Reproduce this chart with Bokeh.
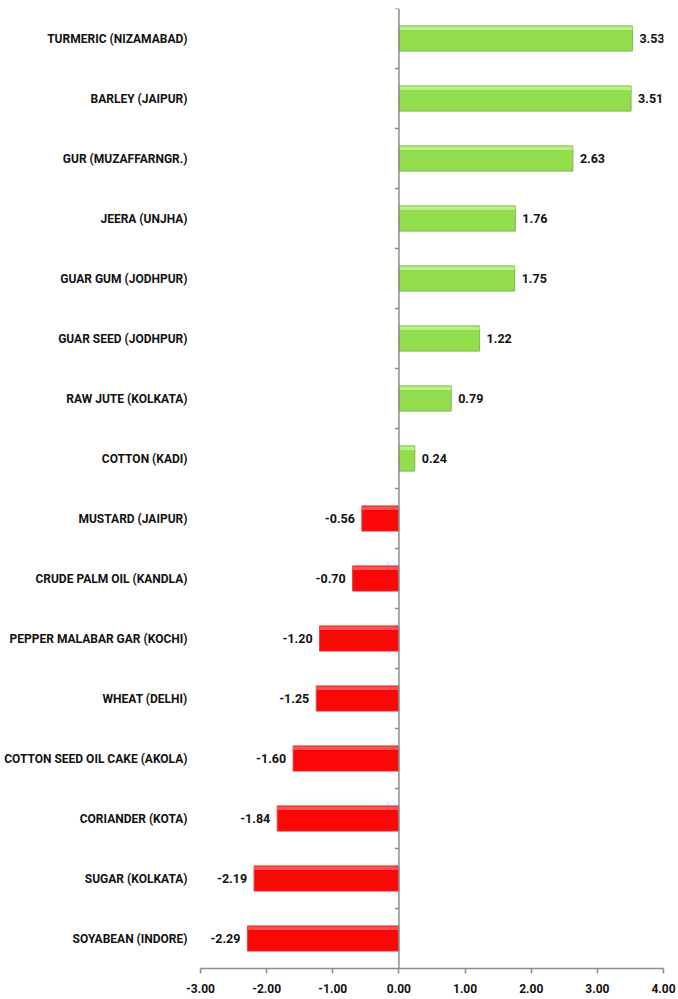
from bokeh.plotting import figure
from bokeh.models import ColumnDataSource, LabelSet, Span, FixedTicker, NumeralTickFormatter, Range1d
from bokeh.core.properties import value
from bokeh.embed import file_html
from bokeh.resources import INLINE

categories = [
    "TURMERIC (NIZAMABAD)", "BARLEY (JAIPUR)", "GUR (MUZAFFARNGR.)", "JEERA (UNJHA)",
    "GUAR GUM (JODHPUR)", "GUAR SEED (JODHPUR)", "RAW JUTE (KOLKATA)", "COTTON (KADI)",
    "MUSTARD (JAIPUR)", "CRUDE PALM OIL (KANDLA)", "PEPPER MALABAR GAR (KOCHI)", "WHEAT (DELHI)",
    "COTTON SEED OIL CAKE (AKOLA)", "CORIANDER (KOTA)", "SUGAR (KOLKATA)", "SOYABEAN (INDORE)",
]
values = [3.53, 3.51, 2.63, 1.76, 1.75, 1.22, 0.79, 0.24,
          -0.56, -0.70, -1.20, -1.25, -1.60, -1.84, -2.19, -2.29]
x_ticks = [-3, -2, -1, 0, 1, 2, 3, 4]

XMIN, XMAX = x_ticks[0], x_ticks[-1]
n = len(categories)
ys = list(range(n))

FONT = "Roboto"
GREEN, GREEN_LINE, GREEN_HI = "#92dd4c", "#7cb84c", "#bff28a"
RED, RED_LINE, RED_HI = "#fb0707", "#e04040", "#ff5a5a"

colors = [GREEN if v >= 0 else RED for v in values]
lines = [GREEN_LINE if v >= 0 else RED_LINE for v in values]
his = [GREEN_HI if v >= 0 else RED_HI for v in values]

src = ColumnDataSource(dict(
    y=ys, v=values, c=colors, lc=lines, hi=his,
    yhi=[y - 0.17 for y in ys],
))
pos_src = ColumnDataSource(dict(y=[y for y, v in zip(ys, values) if v >= 0],
                                v=[v for v in values if v >= 0],
                                lab=[f"{v:.2f}" for v in values if v >= 0]))
neg_src = ColumnDataSource(dict(y=[y for y, v in zip(ys, values) if v < 0],
                                v=[v for v in values if v < 0],
                                lab=[f"{v:.2f}" for v in values if v < 0]))

p = figure(width=678, height=998, output_backend="svg", toolbar_location=None,
           x_range=Range1d(XMIN, XMAX), y_range=Range1d(n - 0.5, -0.5),
           min_border_left=200, min_border_right=15,
           min_border_top=8, min_border_bottom=30)
p.outline_line_color = None
p.grid.visible = False

p.hbar(y="y", left=0, right="v", height=0.42, source=src,
       fill_color="c", line_color="lc", line_width=1)
p.hbar(y="yhi", left=0, right="v", height=0.06, source=src,
       fill_color="hi", line_color=None, fill_alpha=0.9)

# vertical zero axis with category boundary ticks
p.add_layout(Span(location=0, dimension="height", line_color="#8c8c8c", line_width=1.5))
bounds = [y - 0.5 for y in ys]
p.segment(x0=[-0.06] * n, x1=[0] * n, y0=bounds, y1=bounds, line_color="#8c8c8c", line_width=1.5)

# category labels via left axis
ya = p.yaxis[0]
ya.ticker = FixedTicker(ticks=ys)
ya.major_label_overrides = {y: c for y, c in zip(ys, categories)}
ya.axis_line_color = None
ya.major_tick_line_color = None
ya.minor_tick_line_color = None
ya.major_tick_out = 0
ya.major_tick_in = 0
ya.major_label_standoff = 13
ya.major_label_text_font = FONT
ya.major_label_text_font_style = "bold"
ya.major_label_text_font_size = "12px"
ya.major_label_text_color = "#111111"

xa = p.xaxis[0]
xa.ticker = FixedTicker(ticks=x_ticks)
xa.formatter = NumeralTickFormatter(format="0.00")
xa.minor_tick_line_color = None
xa.axis_line_color = "#8c8c8c"
xa.axis_line_width = 1.5
xa.major_tick_line_color = "#8c8c8c"
xa.major_tick_line_width = 1.5
xa.major_tick_out = 5
xa.major_tick_in = 0
xa.major_label_standoff = 10
xa.major_label_text_font = FONT
xa.major_label_text_font_style = "bold"
xa.major_label_text_font_size = "12px"
xa.major_label_text_color = "#111111"

p.add_layout(LabelSet(x="v", y="y", text="lab", source=pos_src, x_offset=7,
                      text_align="left", text_baseline="middle",
                      text_font=value(FONT), text_font_style="bold",
                      text_font_size="12.5px", text_color="#111111"))
p.add_layout(LabelSet(x="v", y="y", text="lab", source=neg_src, x_offset=-7,
                      text_align="right", text_baseline="middle",
                      text_font=value(FONT), text_font_style="bold",
                      text_font_size="12.5px", text_color="#111111"))

open("out.html", "w").write(file_html(p, INLINE))
